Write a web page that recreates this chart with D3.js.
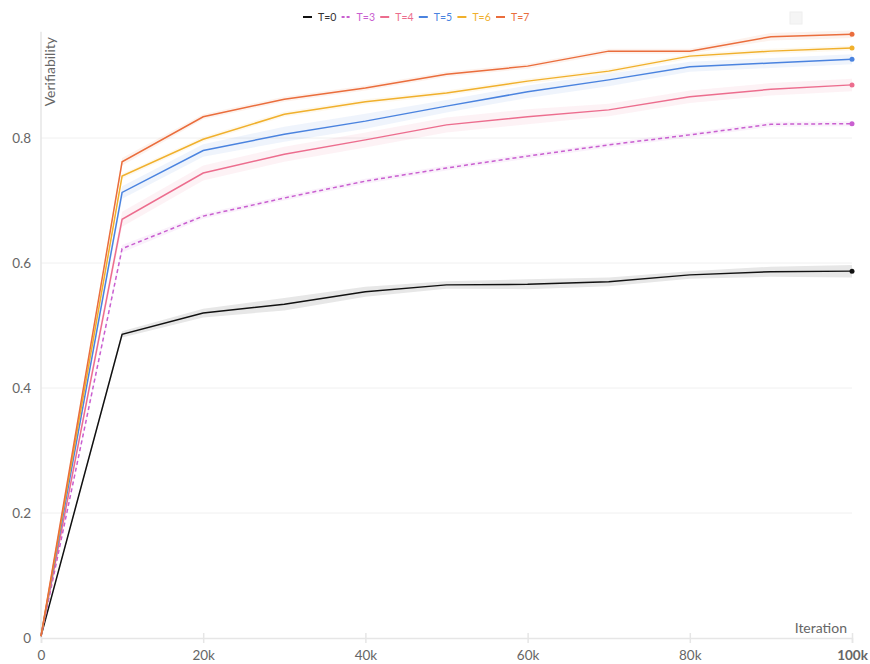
<!DOCTYPE html>
<html>
<head>
<meta charset="utf-8">
<script src="https://cdn.jsdelivr.net/npm/d3@7"></script>
<style>
  body { margin: 0; background: #fff; }
  text { font-family: Lato, "Open Sans", sans-serif; }
</style>
</head>
<body>
<div id="chart"></div>
<script>
// Data
var iterations = [0, 10000, 20000, 30000, 40000, 50000, 60000, 70000, 80000, 90000, 100000];
var seriesNames = ["T=0", "T=3", "T=4", "T=5", "T=6", "T=7"];
var seriesColors = ["#111111", "#c95fd0", "#ec6d8e", "#4a83df", "#f0b02c", "#ea6d3c"];
var t0 = [0.003, 0.486, 0.520, 0.534, 0.554, 0.565, 0.566, 0.570, 0.581, 0.586, 0.587];
var t3 = [0.003, 0.623, 0.675, 0.704, 0.731, 0.752, 0.771, 0.789, 0.805, 0.822, 0.823];
var t4 = [0.003, 0.670, 0.744, 0.774, 0.797, 0.821, 0.834, 0.845, 0.866, 0.878, 0.885];
var t5 = [0.003, 0.713, 0.780, 0.806, 0.827, 0.851, 0.874, 0.893, 0.914, 0.920, 0.926];
var t6 = [0.003, 0.739, 0.798, 0.838, 0.858, 0.872, 0.891, 0.907, 0.931, 0.939, 0.944];
var t7 = [0.003, 0.762, 0.834, 0.862, 0.880, 0.902, 0.915, 0.939, 0.939, 0.962, 0.966];
// half width of the shaded band around each line
var b0 = [0.002, 0.005, 0.007, 0.010, 0.008, 0.006, 0.008, 0.007, 0.006, 0.008, 0.010];
var b3 = [0.002, 0.006, 0.004, 0.004, 0.004, 0.004, 0.004, 0.004, 0.004, 0.004, 0.004];
var b4 = [0.002, 0.012, 0.012, 0.012, 0.012, 0.012, 0.012, 0.010, 0.010, 0.010, 0.010];
var b5 = [0.002, 0.010, 0.010, 0.012, 0.012, 0.010, 0.010, 0.010, 0.008, 0.008, 0.008];
var b6 = [0.002, 0.004, 0.004, 0.004, 0.004, 0.004, 0.004, 0.004, 0.004, 0.004, 0.004];
var b7 = [0.002, 0.006, 0.004, 0.004, 0.004, 0.004, 0.004, 0.004, 0.004, 0.006, 0.006];
var seriesValues = [t0, t3, t4, t5, t6, t7];
var seriesBands = [b0, b3, b4, b5, b6, b7];
var xTicks = [0, 20000, 40000, 60000, 80000, 100000];
var yTicks = [0, 0.2, 0.4, 0.6, 0.8];

var width = 870, height = 664;
var margin = {top: 13, right: 18, bottom: 26, left: 41};

var svg = d3.select("#chart")
    .append("svg")
    .attr("width", width)
    .attr("height", height);

// Set the ranges
var xScale = d3.scaleLinear().domain([0, 100000]).range([margin.left, width - margin.right]);
var yScale = d3.scaleLinear().domain([0, 1]).range([height - margin.bottom, margin.top]);

// Grid lines
svg.append("g")
    .selectAll("line")
    .data(yTicks.slice(1))
    .enter().append("line")
    .attr("x1", xScale(0))
    .attr("x2", xScale(100000))
    .attr("y1", d => yScale(d))
    .attr("y2", d => yScale(d))
    .attr("stroke", "#f0f0f0")
    .attr("stroke-width", 1);

// Y axis line
svg.append("line")
    .attr("x1", xScale(0)).attr("x2", xScale(0))
    .attr("y1", yScale(0.97)).attr("y2", yScale(0))
    .attr("stroke", "#e6e6e6").attr("stroke-width", 1.5);

// X axis
var xAxis = d3.axisBottom(xScale)
    .tickValues(xTicks)
    .tickSize(5)
    .tickPadding(7)
    .tickFormat(d => d === 0 ? "0" : (d / 1000) + "k");
var gx = svg.append("g")
    .attr("transform", "translate(0," + yScale(0) + ")")
    .call(xAxis);
gx.select(".domain").attr("stroke", "#e6e6e6").attr("stroke-width", 1.5);
gx.selectAll(".tick line").attr("stroke", "#e6e6e6").attr("y1", -5).attr("stroke-width", 1.5);
gx.selectAll(".tick text")
    .attr("fill", "#666")
    .style("font-size", "13.5px")
    .style("font-weight", d => d === 100000 ? "bold" : "normal");

// Y axis labels
var yAxis = d3.axisLeft(yScale)
    .tickValues(yTicks)
    .tickSize(0)
    .tickPadding(10)
    .tickFormat(d3.format("~g"));
var gy = svg.append("g")
    .attr("transform", "translate(" + xScale(0) + ",0)")
    .call(yAxis);
gy.select(".domain").remove();
gy.selectAll(".tick text").attr("fill", "#666").style("font-size", "13.5px");

// axis titles
svg.append("text")
    .attr("x", xScale(100000) - 5)
    .attr("y", yScale(0) - 5)
    .style("text-anchor", "end")
    .style("font-size", "14px")
    .attr("fill", "#666")
    .text("Iteration");

svg.append("text")
    .attr("transform", "rotate(-90)")
    .attr("x", -37)
    .attr("y", xScale(0) + 14)
    .style("text-anchor", "end")
    .style("font-size", "14px")
    .attr("fill", "#666")
    .text("Verifiability");

// Bands
var area = d3.area()
    .x((d, i) => xScale(iterations[i]))
    .y0(d => yScale(d[0] - d[1]))
    .y1(d => yScale(d[0] + d[1]));

var line = d3.line()
    .x((d, i) => xScale(iterations[i]))
    .y(d => yScale(d));

seriesValues.forEach((vals, s) => {
    var pairs = vals.map((v, i) => [v, seriesBands[s][i]]);
    svg.append("path")
        .attr("d", area(pairs))
        .attr("fill", seriesColors[s])
        .attr("fill-opacity", s === 0 ? 0.1 : 0.09);
});

seriesValues.forEach((vals, s) => {
    svg.append("path")
        .attr("d", line(vals))
        .attr("fill", "none")
        .attr("stroke", seriesColors[s])
        .attr("stroke-width", 1.5)
        .attr("stroke-dasharray", s === 1 ? "4,3" : null);
    svg.append("circle")
        .attr("cx", xScale(iterations[iterations.length - 1]))
        .attr("cy", yScale(vals[vals.length - 1]))
        .attr("r", 2.5)
        .attr("fill", seriesColors[s]);
});

// Legend
var legend = svg.append("g").attr("transform", "translate(303,17)");
var items = legend.selectAll("g")
    .data(seriesNames)
    .enter().append("g")
    .attr("transform", (d, i) => "translate(" + (i * 38.6) + ",0)");
items.append("line")
    .attr("x1", 0).attr("x2", 9)
    .attr("y1", 0).attr("y2", 0)
    .attr("stroke", (d, i) => seriesColors[i])
    .attr("stroke-width", 2)
    .attr("stroke-dasharray", (d, i) => i === 1 ? "3,2" : null);
items.append("text")
    .attr("x", 15)
    .attr("y", 4)
    .style("font-size", "10.5px")
    .attr("fill", (d, i) => i === 0 ? "#333" : seriesColors[i])
    .text(d => d);

// small box at the top right
svg.append("rect")
    .attr("x", 790).attr("y", 12)
    .attr("width", 12).attr("height", 12)
    .attr("fill", "#f5f5f5")
    .attr("stroke", "#eeeeee");
</script>
</body>
</html>
